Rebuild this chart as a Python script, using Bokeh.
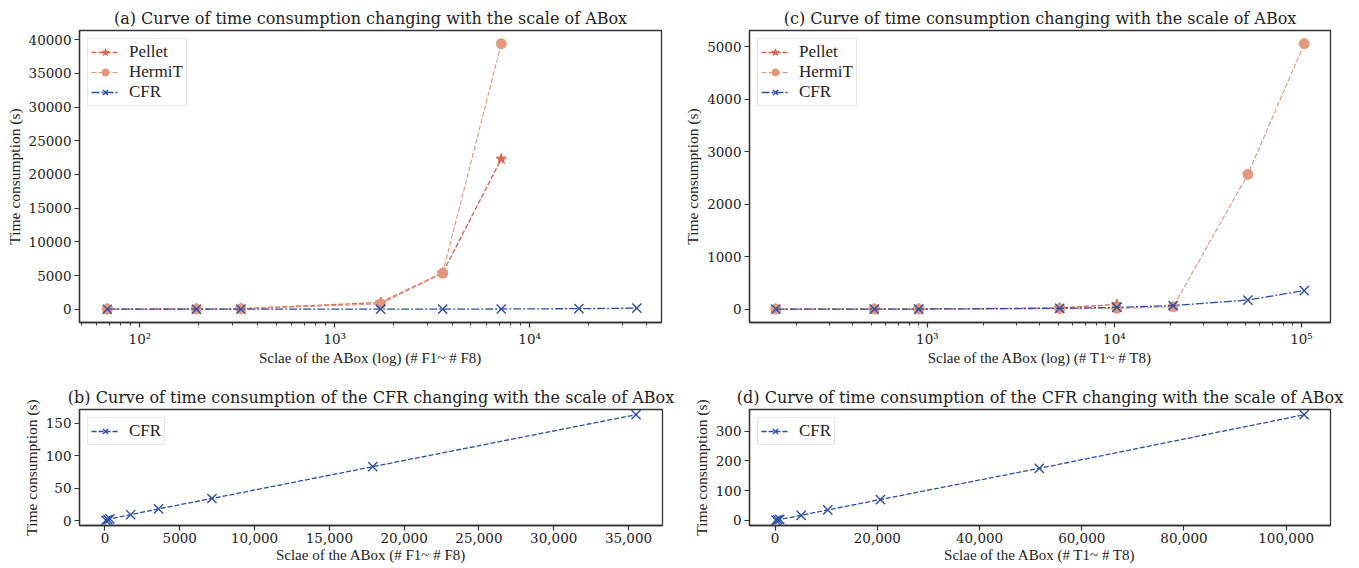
from bokeh.plotting import figure
from bokeh.layouts import column, row
from bokeh.models import (Range1d, FixedTicker, CustomJSTickFormatter, Legend, LegendItem, LogTicker)
from bokeh.embed import file_html
from bokeh.resources import INLINE

# ---------------- data ----------------
f_scale = [68, 195, 330, 1720, 3580, 7150, 17900, 35500]          # F1..F8
f_pellet = [20, 40, 80, 1000, 5400, 22300]                           # F1..F6
f_hermit = [10, 30, 60, 800, 5350, 39400]                            # F1..F6
f_cfr = [0.5, 1.5, 2.5, 9, 18, 34, 83, 163]                           # F1..F8

t_scale = [155, 520, 900, 5100, 10300, 20600, 51700, 103500]      # T1..T8
t_pellet = [1, 2, 3, 25, 90]                                          # T1..T5
t_hermit = [2, 3, 4, 10, 15, 45, 2570, 5060]                          # T1..T8
t_cfr = [0.5, 2, 3, 17, 35, 70, 175, 355]                             # T1..T8

titles = ["(a) Curve of time consumption changing with the scale of ABox",
          "(c) Curve of time consumption changing with the scale of ABox",
          "(b) Curve of time consumption of the CFR changing with the scale of ABox",
          "(d) Curve of time consumption of the CFR changing with the scale of ABox"]
xlabels = ["Sclae of the ABox (log) (# F1~ # F8)", "Sclae of the ABox (log) (# T1~ # T8)",
           "Sclae of the ABox (# F1~ # F8)", "Sclae of the ABox (# T1~ # T8)"]
ylabel = "Time consumption (s)"
yticks_a = [0, 5000, 10000, 15000, 20000, 25000, 30000, 35000, 40000]
yticks_c = [0, 1000, 2000, 3000, 4000, 5000]
yticks_b = [0, 50, 100, 150]
yticks_d = [0, 100, 200, 300]
xticks_b = [0, 5000, 10000, 15000, 20000, 25000, 30000, 35000]
xticks_d = [0, 20000, 40000, 60000, 80000, 100000]

C_PELLET = "#e0604b"
C_HERMIT = "#e4977b"
C_CFR = "#2b4ea6"
FONT = "DejaVu Serif"
FONT2 = "serif"
TXT = "#222222"


def style(p, yticks):
    p.title.text_font = FONT
    p.title.text_font_size = "16px"
    p.title.text_font_style = "normal"
    p.title.text_color = TXT
    p.title.align = "center"
    p.title.standoff = 5
    p.outline_line_color = "#333333"
    p.outline_line_width = 1.3
    p.outline_line_alpha = 1
    p.grid.visible = False
    for ax in (p.xaxis[0], p.yaxis[0]):
        ax.axis_label_text_font = FONT2
        ax.axis_label_text_font_style = "normal"
        ax.axis_label_text_color = TXT
        ax.major_label_text_font = FONT
        ax.major_label_text_font_size = "13.5px"
        ax.major_label_text_color = TXT
        ax.axis_line_color = "#333333"
        ax.axis_line_width = 1.3
        ax.major_tick_line_color = "#333333"
        ax.major_tick_line_width = 1.2
        ax.major_tick_out = 5
        ax.major_tick_in = 0
        ax.minor_tick_line_color = "#333333"
        ax.minor_tick_out = 3
        ax.minor_tick_in = 0
        ax.major_label_standoff = 3
        ax.axis_label_standoff = 3
    p.xaxis[0].axis_label_text_font_size = "15px"
    p.yaxis[0].axis_label_text_font_size = "15.5px"
    p.yaxis[0].ticker = FixedTicker(ticks=yticks)
    p.yaxis[0].minor_tick_line_color = None
    p.yaxis[0].major_label_orientation = "horizontal"


def add_legend(p, items, size="17px"):
    leg = Legend(items=[LegendItem(label=lab, renderers=rs) for lab, rs in items],
                 location="top_left",
                 border_line_color="#cccccc", border_line_width=1,
                 background_fill_alpha=0.85, margin=8, padding=3, spacing=0,
                 label_height=18, glyph_height=18, glyph_width=28, label_standoff=10)
    p.add_layout(leg)
    p.legend.label_text_font = FONT2
    p.legend.label_text_font_size = size
    p.legend.label_text_font_style = "normal"
    p.legend.label_text_color = TXT


sup_formatter = CustomJSTickFormatter(code="""
const sup = {"0":"\u2070","1":"\u00b9","2":"\u00b2","3":"\u00b3","4":"\u2074","5":"\u2075","6":"\u2076","7":"\u2077","8":"\u2078","9":"\u2079","-":"\u207b"};
const e = Math.round(Math.log10(tick));
return "10" + String(e).split("").map(c => sup[c]).join("");
""")

comma_formatter = CustomJSTickFormatter(code="""
return tick >= 10000 ? tick.toLocaleString('en-US') : tick.toString();
""")


def top_fig(title, xlabel, xs, pel, her, cfr, xr, yr, yticks, w, left, right):
    p = figure(width=w, height=370, x_axis_type="log",
               x_range=Range1d(*xr), y_range=Range1d(*yr),
               output_backend="svg", toolbar_location=None, title=title,
               min_border_left=left, min_border_right=right, min_border_top=30, min_border_bottom=48)
    style(p, yticks)
    p.xaxis[0].ticker = LogTicker(num_minor_ticks=10)
    p.xaxis[0].formatter = sup_formatter
    p.xaxis[0].axis_label_standoff = 0
    p.xaxis.axis_label = xlabel
    p.yaxis.axis_label = ylabel
    lp = p.line(xs[:len(pel)], pel, color=C_PELLET, line_width=1.3, line_dash="5 2")
    sp = p.scatter(xs[:len(pel)], pel, marker="star", size=11, color=C_PELLET)
    lh = p.line(xs[:len(her)], her, color=C_HERMIT, line_width=1.1, line_dash="5 2")
    sh = p.scatter(xs[:len(her)], her, marker="circle", size=10, color=C_HERMIT)
    lc = p.line(xs, cfr, color=C_CFR, line_width=1.3, line_dash="8 2 2 2")
    sc = p.scatter(xs, cfr, marker="x", size=13, line_color=C_CFR, line_width=1.4)
    add_legend(p, [("Pellet", [lp, sp]), ("HermiT", [lh, sh]), ("CFR", [lc, sc])])
    return p


def bottom_fig(title, xlabel, xs, cfr, xr, yr, xticks, yticks, w, left, right):
    p = figure(width=w, height=198,
               x_range=Range1d(*xr), y_range=Range1d(*yr),
               output_backend="svg", toolbar_location=None, title=title,
               min_border_left=left, min_border_right=right, min_border_top=39, min_border_bottom=43)
    style(p, yticks)
    p.xaxis[0].ticker = FixedTicker(ticks=xticks)
    p.xaxis[0].formatter = comma_formatter
    p.xaxis[0].minor_tick_line_color = None
    p.xaxis[0].major_label_standoff = 2
    p.xaxis[0].axis_label_standoff = 1
    p.xaxis.axis_label = xlabel
    p.yaxis.axis_label = ylabel
    lc = p.line(xs, cfr, color=C_CFR, line_width=1.3, line_dash="5 2")
    sc = p.scatter(xs, cfr, marker="x", size=13, line_color=C_CFR, line_width=1.4)
    add_legend(p, [("CFR", [lc, sc])])
    return p


pa = top_fig(titles[0], xlabels[0], f_scale, f_pellet, f_hermit, f_cfr,
             (49, 47500), (-1970, 41370), yticks_a, 680, 79, 19)
pc = top_fig(titles[1], xlabels[1], t_scale, t_pellet, t_hermit, t_cfr,
             (112, 143000), (-253, 5313), yticks_c, 679, 69, 29)
pb = bottom_fig(titles[2], xlabels[2], f_scale, f_cfr,
                (-1704, 37272), (-7.6, 171), xticks_b, yticks_b, 680, 79, 18)
pd = bottom_fig(titles[3], xlabels[3], t_scale, t_cfr,
                (-5012, 108667), (-17.3, 372.7), xticks_d, yticks_d, 679, 69, 29)

layout = column(row(pa, pc), row(pb, pd))
open("out.html", "w").write(file_html(layout, INLINE))
